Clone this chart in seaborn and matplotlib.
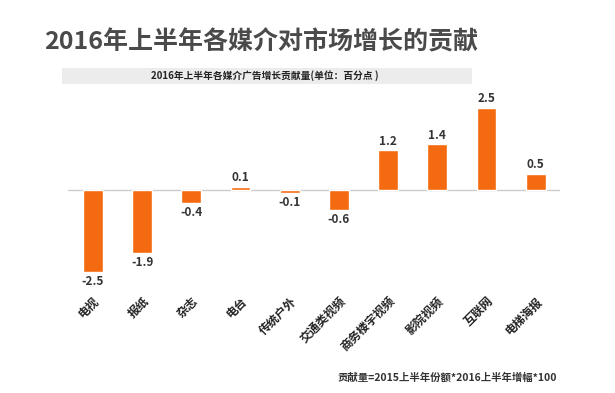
import matplotlib
matplotlib.use("Agg")
import matplotlib.pyplot as plt
import seaborn as sns
import pandas as pd
from matplotlib.patches import Rectangle

# --- data ---
media = ["电视", "报纸", "杂志", "电台", "传统户外", "交通类视频",
         "商务楼宇视频", "影院视频", "互联网", "电梯海报"]
contribution = [-2.5, -1.9, -0.4, 0.1, -0.1, -0.6, 1.2, 1.4, 2.5, 0.5]

title = "2016年上半年各媒介对市场增长的贡献"
subtitle = "2016年上半年各媒介广告增长贡献量(单位：百分点 )"
footnote = "贡献量=2015上半年份额*2016上半年增幅*100"

sns.set_theme(style="white")
plt.rcParams["font.family"] = ["Noto Sans CJK SC", "DejaVu Sans"]
plt.rcParams["axes.unicode_minus"] = False

df = pd.DataFrame({"media": media, "value": contribution})

fig = plt.figure(figsize=(6.15, 3.93), dpi=100)
fig.patch.set_facecolor("white")
ax = fig.add_axes([0.111, 0.275, 0.80, 0.483])

sns.barplot(data=df, x="media", y="value", color="#F36A10", width=0.4,
            saturation=1, ax=ax)

ax.set_ylim(-2.88, 2.88)
ax.set_xlim(-0.5, 9.5)
ax.axhline(0, color="#cccccc", lw=1, zorder=0)

for i, v in enumerate(contribution):
    off = 0.07 if v >= 0 else -0.09
    ax.text(i, v + off, f"{v:.1f}", ha="center",
            va="bottom" if v >= 0 else "top",
            fontsize=8.5, fontweight="bold", color="#333333")

ax.set_xlabel("")
ax.set_ylabel("")
ax.set_yticks([])
ax.tick_params(axis="x", length=0, pad=7)
ax.set_xticks(range(len(media)))
ax.set_xticklabels(media, rotation=45, ha="right", rotation_mode="anchor",
                   fontsize=8.5, fontweight="bold", color="#222222")
sns.despine(ax=ax, left=True, bottom=True)

# title and subtitle band
fig.text(0.424, 1 - 42 / 393, title, ha="center", va="center", fontsize=18,
         fontweight="bold", color="#4a4a4a")
fig.patches.append(Rectangle((0.101, 1 - 84 / 393), 0.667, 16 / 393,
                             transform=fig.transFigure, facecolor="#ececec",
                             edgecolor="none", zorder=0))
fig.text(0.43, 1 - 76 / 393, subtitle, ha="center", va="center",
         fontsize=7, fontweight="bold", color="#222222")

fig.text(0.906, 1 - 378 / 393, footnote, ha="right", va="center",
         fontsize=7.5, fontweight="bold", color="#333333")

fig.savefig("out.png", dpi=100, facecolor="white")
